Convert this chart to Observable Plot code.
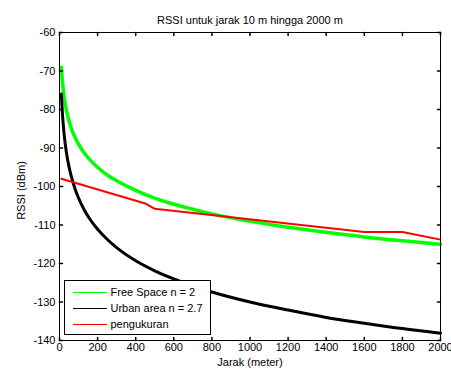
<!DOCTYPE html>
<html><head><meta charset="utf-8">
<script src="https://cdn.jsdelivr.net/npm/d3@7"></script>
<script src="https://cdn.jsdelivr.net/npm/@observablehq/plot@0.6"></script>
<style>body{margin:0;background:#fff}</style>
</head><body><div id="chart"></div>
<script>
const title = "RSSI untuk jarak 10 m hingga 2000 m";
const xLabel = "Jarak (meter)";
const yLabel = "RSSI (dBm)";
const xTicks = [0, 200, 400, 600, 800, 1000, 1200, 1400, 1600, 1800, 2000];
const yTicks = [-140, -130, -120, -110, -100, -90, -80, -70, -60];

const modelDistances = [10, 12, 15, 20, 25, 30, 40, 50, 60, 80, 100, 130, 160, 200, 250, 300, 400, 500, 600, 700, 800, 1000, 1200, 1400, 1600, 1800, 2000];
const freeSpace = [-69, -70.6, -72.5, -75.0, -77.0, -78.5, -81.0, -83.0, -84.6, -87.1, -89.0, -91.3, -93.1, -95.0, -97.0, -98.5, -101.0, -103.0, -104.6, -105.9, -107.1, -109.0, -110.6, -111.9, -113.1, -114.1, -115.0];
const urbanArea = [-76, -78.1, -80.8, -84.1, -86.7, -88.9, -92.3, -94.9, -97.0, -100.4, -103.0, -106.1, -108.5, -111.1, -113.7, -115.9, -119.3, -121.9, -124.0, -125.8, -127.4, -130.0, -132.1, -134.0, -135.5, -136.9, -138.1];

const measDistances = [10, 450, 500, 1600, 1800, 2000];
const measured = [-98, -104.4, -105.8, -111.8, -111.8, -113.8];

const seriesNames = ["Free Space n = 2", "Urban area n = 2.7", "pengukuran"];
const seriesColors = ["#00ff00", "#000000", "#ff0000"];

const fsData = modelDistances.map((d, i) => ({d, v: freeSpace[i]}));
const urData = modelDistances.map((d, i) => ({d, v: urbanArea[i]}));
const meData = measDistances.map((d, i) => ({d, v: measured[i]}));

const tickShape = {draw(ctx, l) { ctx.moveTo(0, 0); ctx.lineTo(0, -l); }};
const font = "'Liberation Sans', Arial, Helvetica, sans-serif";

const svg = Plot.plot({
  width: 451, height: 369,
  marginLeft: 59, marginRight: 11, marginTop: 32, marginBottom: 29,
  x: {domain: [0, 2000]},
  y: {domain: [-140, -60]},
  style: {fontFamily: font, fontSize: "11px", background: "white", color: "black"},
  marks: [
    Plot.lineY(fsData, {x: "d", y: "v", stroke: seriesColors[0], strokeWidth: 3.5, curve: "monotone-x"}),
    Plot.lineY(urData, {x: "d", y: "v", stroke: seriesColors[1], strokeWidth: 3, curve: "monotone-x"}),
    Plot.lineY(meData, {x: "d", y: "v", stroke: seriesColors[2], strokeWidth: 2}),
    Plot.frame({stroke: "black", strokeWidth: 1}),
    Plot.vector(xTicks, {x: d => d, frameAnchor: "bottom", length: 3, rotate: 0, anchor: "start", shape: tickShape, stroke: "black"}),
    Plot.vector(xTicks, {x: d => d, frameAnchor: "top", length: 3, rotate: 180, anchor: "start", shape: tickShape, stroke: "black"}),
    Plot.vector(yTicks, {y: d => d, frameAnchor: "left", length: 3, rotate: 90, anchor: "start", shape: tickShape, stroke: "black"}),
    Plot.vector(yTicks, {y: d => d, frameAnchor: "right", length: 3, rotate: 270, anchor: "start", shape: tickShape, stroke: "black"}),
    Plot.axisX({ticks: xTicks, anchor: "bottom", tickSize: 0, tickPadding: 3, tickFormat: d => `${d}`, label: null, fontSize: 11}),
    Plot.axisY({ticks: yTicks, anchor: "left", tickSize: 0, tickPadding: 4, tickFormat: d => `${d}`, label: null, fontSize: 11}),
    Plot.text([title], {text: d => d, frameAnchor: "top", dy: -12, textAnchor: "middle", lineAnchor: "middle", fontSize: 11}),
    Plot.text([xLabel], {text: d => d, frameAnchor: "bottom", dy: 22, textAnchor: "middle", lineAnchor: "middle", fontSize: 11}),
    Plot.text([yLabel], {text: d => d, frameAnchor: "left", dx: -38, dy: 4, rotate: -90, textAnchor: "middle", lineAnchor: "middle", fontSize: 11})
  ]
});
document.getElementById("chart").appendChild(svg);

// legend box inside the plot area (lower left)
const lg = d3.select(svg).append("g").attr("transform", "translate(64.5,280.5)")
  .attr("font-family", font).attr("font-size", 11).attr("text-anchor", "start");
lg.append("rect").attr("width", 146).attr("height", 54).attr("fill", "white").attr("stroke", "black");
seriesNames.forEach((name, i) => {
  const y = 12 + i * 16;
  lg.append("line").attr("x1", 8).attr("x2", 42).attr("y1", y).attr("y2", y)
    .attr("stroke", seriesColors[i]).attr("stroke-width", 1).attr("shape-rendering", "crispEdges");
  lg.append("text").attr("x", 46).attr("y", y).attr("dy", "0.35em").attr("text-anchor", "start").attr("fill", "black").text(name);
});
</script>
</body></html>
